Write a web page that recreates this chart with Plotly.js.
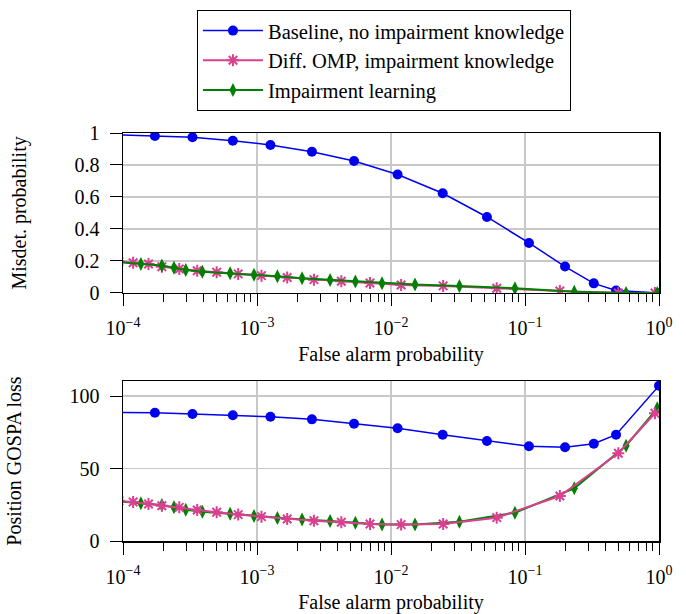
<!DOCTYPE html>
<html>
<head>
<meta charset="utf-8">
<script src="https://cdn.plot.ly/plotly-3.0.1.min.js"></script>
<style>html,body{margin:0;padding:0;background:#fff;}#chart{width:686px;height:614px;}</style>
</head>
<body>
<div id="chart"></div>
<script>
// ---- data ----
const seriesNames = ["Baseline, no impairment knowledge", "Diff. OMP, impairment knowledge", "Impairment learning"];

const baselineFA = [8.7e-5, 1.73e-4, 3.3e-4, 6.6e-4, 1.26e-3, 2.57e-3, 5.3e-3, 0.0112, 0.0243, 0.052, 0.107, 0.199, 0.326, 0.478, 1.0];
const baselineMisdet = [0.99, 0.981, 0.973, 0.952, 0.925, 0.883, 0.825, 0.74, 0.623, 0.475, 0.3125, 0.165, 0.06, 0.015, 0.0];
const baselineGospa = [88.6, 88.5, 87.6, 86.7, 85.7, 83.9, 80.9, 77.7, 73.3, 69.0, 65.3, 64.6, 67.1, 73.3, 107.1];

const ompFA = [9.33e-5, 1.19e-4, 1.55e-4, 1.95e-4, 2.63e-4, 3.58e-4, 5.0e-4, 7.24e-4, 1.08e-3, 1.68e-3, 2.66e-3, 4.26e-3, 6.97e-3, 0.0119, 0.0245, 0.0615, 0.182, 0.497, 0.933];
const ompMisdet = [0.196, 0.189, 0.181, 0.164, 0.15, 0.139, 0.129, 0.119, 0.108, 0.096, 0.083, 0.073, 0.0625, 0.05, 0.044, 0.029, 0.0125, 0.0, 0.0];
const ompGospa = [27.7, 26.9, 25.5, 24.3, 23.2, 21.4, 19.8, 18.2, 16.8, 15.2, 14.0, 12.9, 11.7, 11.3, 11.7, 16.1, 31.0, 60.5, 88.1];

const learnFA = [9.5e-5, 1.36e-4, 1.95e-4, 2.40e-4, 2.94e-4, 3.91e-4, 6.30e-4, 9.5e-4, 1.42e-3, 2.17e-3, 3.51e-3, 5.42e-3, 8.57e-3, 0.0151, 0.0324, 0.0841, 0.233, 0.568, 0.97];
const learnMisdet = [0.192, 0.181, 0.171, 0.158, 0.144, 0.133, 0.123, 0.114, 0.104, 0.092, 0.081, 0.071, 0.061, 0.052, 0.044, 0.029, 0.008, 0.0, 0.0];
const learnGospa = [27.3, 26.0, 24.8, 23.2, 21.6, 20.2, 18.8, 17.2, 15.9, 14.9, 13.8, 12.6, 11.3, 11.3, 13.3, 19.5, 36.3, 65.7, 91.5];

const xTickVals = [1e-4, 1e-3, 1e-2, 1e-1, 1];
const xTickText = ["10<sup>\u22124</sup>", "10<sup>\u22123</sup>", "10<sup>\u22122</sup>", "10<sup>\u22121</sup>", "10<sup>0</sup>"];
const misdetTicks = [0, 0.2, 0.4, 0.6, 0.8, 1];
const misdetTickText = ["0", "0.2", "0.4", "0.6", "0.8", "1"];
const gospaTicks = [0, 50, 100];

// ---- styles ----
const BLUE = "#0000f0", PINK = "#d9408f", GREEN = "#008000";
const FONT = "Liberation Serif, Times New Roman, serif";

const minorVals = [];
for (let e = -4; e < 0; e++) for (let m = 2; m <= 9; m++) minorVals.push(m * Math.pow(10, e));

function blueTrace(x, y, xa, ya, show) {
  return {x: x, y: y, xaxis: xa, yaxis: ya, name: seriesNames[0], showlegend: show, mode: "lines+markers",
    line: {color: BLUE, width: 1.5}, marker: {symbol: "circle", size: 10, color: BLUE}};
}
function pinkTrace(x, y, xa, ya, show) {
  return {x: x, y: y, xaxis: xa, yaxis: ya, name: seriesNames[1], showlegend: show, mode: "lines+markers",
    line: {color: PINK, width: 2}, marker: {symbol: "asterisk-open", size: 10, color: PINK, line: {color: PINK, width: 2}}};
}
function greenTrace(x, y, xa, ya, show) {
  return {x: x, y: y, xaxis: xa, yaxis: ya, name: seriesNames[2], showlegend: show, mode: "lines+markers",
    line: {color: GREEN, width: 2}, marker: {symbol: "diamond-tall", size: 10, color: GREEN}};
}

const traces = [
  blueTrace(baselineFA, baselineMisdet, "x2", "y2", true),
  pinkTrace(ompFA, ompMisdet, "x2", "y2", true),
  greenTrace(learnFA, learnMisdet, "x2", "y2", true),
  blueTrace(baselineFA, baselineGospa, "x", "y", false),
  greenTrace(learnFA, learnGospa, "x", "y", false),
  pinkTrace(ompFA, ompGospa, "x", "y", false)
];

function xAxis(anchor) {
  return {
    anchor: anchor, type: "log", range: [-4, 0], domain: [0, 1],
    tickmode: "array", tickvals: xTickVals, ticktext: xTickText,
    ticks: "outside", ticklen: 12, tickwidth: 1, tickcolor: "#000",
    ticklabelstandoff: 5,
    showgrid: true, gridcolor: "#c8c8c8", gridwidth: 1.5,
    showline: true, linecolor: "#000", linewidth: 1.5, mirror: true,
    zeroline: false,
    minor: {tickmode: "array", tickvals: minorVals, ticks: "outside", ticklen: 8, tickwidth: 1, tickcolor: "#000", showgrid: false},
    tickfont: {family: FONT, size: 20, color: "#000"},
    title: {text: "False alarm probability", font: {family: FONT, size: 20, color: "#000"}, standoff: 8}
  };
}

const layout = {
  width: 686, height: 614,
  margin: {l: 123, r: 27, t: 133, b: 73, pad: 0, autoexpand: false},
  paper_bgcolor: "#fff", plot_bgcolor: "#fff",
  font: {family: FONT, size: 20, color: "#000"},
  showlegend: true,
  legend: {
    x: 0.138, xanchor: "left", y: 1.302, yanchor: "top",
    bordercolor: "#000", borderwidth: 1, bgcolor: "#fff",
    font: {family: FONT, size: 20.5, color: "#000"},
    itemwidth: 60, tracegroupgap: 0
  },
  xaxis: xAxis("y"),
  xaxis2: xAxis("y2"),
  yaxis: {
    domain: [0, 0.392], range: [0, 110.3], tickmode: "array", tickvals: gospaTicks,
    ticks: "outside", ticklen: 12, tickwidth: 1, tickcolor: "#000", ticklabelstandoff: 6,
    showgrid: true, gridcolor: "#c8c8c8", gridwidth: 1.5,
    showline: true, linecolor: "#000", linewidth: 1.5, mirror: true, zeroline: false,
    tickfont: {family: FONT, size: 20, color: "#000"},
    title: {text: "Position GOSPA loss", font: {family: FONT, size: 20, color: "#000"}, standoff: 42}
  },
  yaxis2: {
    domain: [0.608, 1], range: [0, 1], tickmode: "array", tickvals: misdetTicks, ticktext: misdetTickText,
    ticks: "outside", ticklen: 12, tickwidth: 1, tickcolor: "#000", ticklabelstandoff: 6,
    showgrid: true, gridcolor: "#c8c8c8", gridwidth: 1.5,
    showline: true, linecolor: "#000", linewidth: 1.5, mirror: true, zeroline: false,
    tickfont: {family: FONT, size: 20, color: "#000"},
    title: {text: "Misdet. probability", font: {family: FONT, size: 20, color: "#000"}, standoff: 42}
  }
};

Plotly.newPlot("chart", traces, layout, {displayModeBar: false, staticPlot: true});
</script>
</body>
</html>
